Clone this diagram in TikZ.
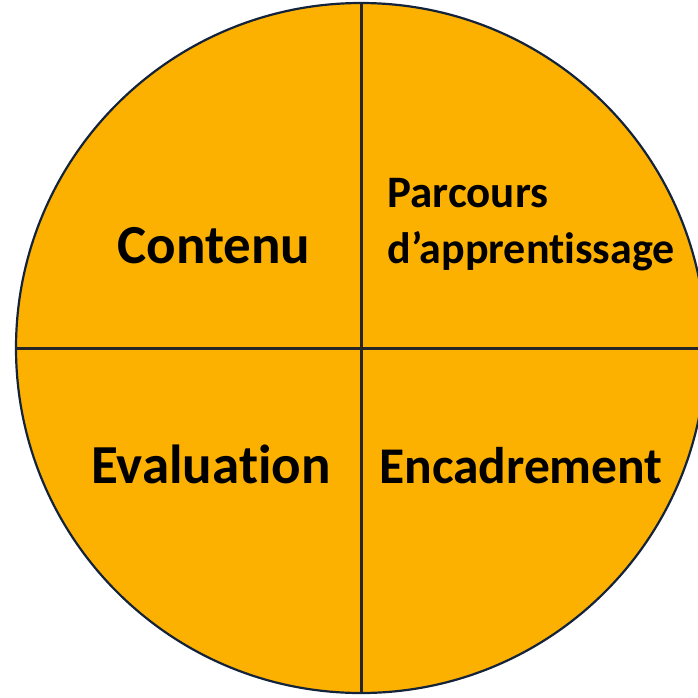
\documentclass[tikz,border=0pt]{standalone}
\usepackage{fontspec}
\setmainfont{Carlito}[Ligatures=NoCommon]
\usepackage{tikz}

\definecolor{wheelorange}{RGB}{252,176,0}
\definecolor{wheelrim}{RGB}{20,35,60}

\begin{document}
\begin{tikzpicture}[x=1pt,y=-1pt]
        \useasboundingbox (0,0) rectangle (698,697);

        \coordinate (O) at (361,348);
        \coordinate (N) at (361,3);
        \coordinate (S) at (361,693);
        \coordinate (W) at (16,348);
        \coordinate (E) at (706,348);

        \tikzset{
            big/.style={anchor=base, font=\bfseries\fontsize{55}{62}\selectfont},
            small/.style={anchor=base west, font=\bfseries\fontsize{45}{52}\selectfont},
            split/.style={line width=3pt, draw=black!85}
        }

        \fill[wheelorange] (O) circle (345);
        \draw[line width=2.2pt, wheelrim] (O) circle (345);
        \draw[split] (N) -- (S);
        \draw[split] (W) -- (E);

        \node[big] (contenu) at (214,263) {Contenu};
        \node[big] (evaluation) at (211,483) {Evaluation};
        \node[big, font=\bfseries\fontsize{51.5}{60}\selectfont] (encadrement) at (521,483) {Encadrement};
        \node[small] (parcours) at (384,207) {Parcours};
        \node[small, font=\bfseries\fontsize{44}{52}\selectfont] (apprentissage) at (384,263) {d’apprentissage};

    \end{tikzpicture}
\end{document}
